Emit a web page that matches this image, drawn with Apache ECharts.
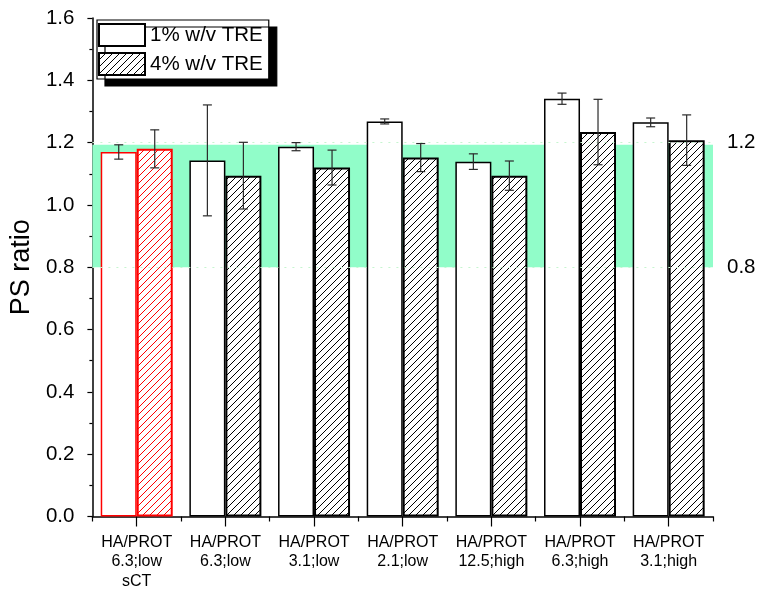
<!DOCTYPE html>
<html>
<head>
<meta charset="utf-8">
<script src="https://cdn.jsdelivr.net/npm/echarts@6/dist/echarts.min.js"></script>
<style>
html,body{margin:0;padding:0;background:#fff;}
#chart{width:757px;height:591px;}
</style>
</head>
<body>
<div id="chart"></div>
<script>
// ---- data ----
var categories = [
  'HA/PROT\n6.3;low\nsCT',
  'HA/PROT\n6.3;low',
  'HA/PROT\n3.1;low',
  'HA/PROT\n2.1;low',
  'HA/PROT\n12.5;high',
  'HA/PROT\n6.3;high',
  'HA/PROT\n3.1;high'
];
var seriesNames = ['1% w/v TRE', '4% w/v TRE'];
var tre1 = [1.170, 1.143, 1.187, 1.268, 1.139, 1.341, 1.265];
var tre1Err = [0.023, 0.178, 0.013, 0.008, 0.025, 0.018, 0.014];
var tre4 = [1.180, 1.094, 1.120, 1.152, 1.094, 1.234, 1.208];
var tre4Err = [0.061, 0.107, 0.056, 0.045, 0.047, 0.105, 0.081];
var bandLimits = [0.8, 1.2];
var bandTop = 1.193;
var yMin = 0, yMax = 1.6, yInterval = 0.2;

// ---- hatch patterns ----
function hatch(color) {
  var s = 7;
  var c = document.createElement('canvas');
  c.width = s; c.height = s;
  var ctx = c.getContext('2d');
  ctx.fillStyle = '#fff';
  ctx.fillRect(0, 0, s, s);
  ctx.strokeStyle = color;
  ctx.lineWidth = 1;
  ctx.beginPath();
  ctx.moveTo(-1, s + 1); ctx.lineTo(s + 1, -1);
  ctx.moveTo(-1, 1); ctx.lineTo(1, -1);
  ctx.moveTo(s - 1, s + 1); ctx.lineTo(s + 1, s - 1);
  ctx.stroke();
  return { image: c, repeat: 'repeat' };
}
var hatchBlack = hatch('#000');
var hatchRed = hatch('#ff0000');

var FONT = 'Liberation Sans, Arial, sans-serif';
var BAR_W = 36;

function errRenderer(offset) {
  return function (params, api) {
    var i = api.value(0), v = api.value(1), e = api.value(2);
    var top = api.coord([i, v + e]);
    var bot = api.coord([i, v - e]);
    var x = top[0] + offset;
    var hw = 4.5;
    var st = { stroke: '#2a2a2a', lineWidth: 1.2 };
    return {
      type: 'group',
      children: [
        { type: 'line', shape: { x1: x, y1: top[1], x2: x, y2: bot[1] }, style: st },
        { type: 'line', shape: { x1: x - hw, y1: top[1], x2: x + hw, y2: top[1] }, style: st },
        { type: 'line', shape: { x1: x - hw, y1: bot[1], x2: x + hw, y2: bot[1] }, style: st }
      ]
    };
  };
}

var chart = echarts.init(document.getElementById('chart'), null, { renderer: 'canvas' });

var option = {
  animation: false,
  backgroundColor: '#fff',
  textStyle: { fontFamily: FONT, color: '#000' },
  grid: { left: 92, right: 44, top: 18, bottom: 71, containLabel: false },
  legend: {
    data: seriesNames,
    orient: 'vertical',
    left: 97,
    top: 20,
    itemWidth: 46,
    itemHeight: 22,
    itemGap: 5,
    padding: [3, 6, 3, 1],
    icon: 'rect',
    backgroundColor: '#fff',
    borderColor: '#000',
    borderWidth: 1.2,
    shadowColor: '#000',
    shadowBlur: 0,
    shadowOffsetX: 8,
    shadowOffsetY: 7,
    textStyle: { fontFamily: FONT, fontSize: 20.5, color: '#000', padding: [0, 0, 0, 0] }
  },
  xAxis: [
    {
      type: 'category',
      data: categories,
      position: 'bottom',
      axisLine: { show: true, lineStyle: { color: '#000', width: 1.5 } },
      axisTick: { show: true, length: 5, lineStyle: { color: '#000', width: 1.2 } },
      axisLabel: { show: true, color: '#000', fontFamily: FONT, fontSize: 16, lineHeight: 19.5, margin: 16, interval: 0 },
      splitLine: { show: false }
    },
    {
      type: 'category',
      data: categories,
      position: 'bottom',
      axisLine: { show: false },
      axisTick: { show: true, alignWithLabel: true, length: 10, lineStyle: { color: '#000', width: 1.2 } },
      axisLabel: { show: false },
      splitLine: { show: false }
    }
  ],
  yAxis: {
    type: 'value',
    min: yMin,
    max: yMax,
    interval: yInterval,
    name: 'PS ratio',
    nameLocation: 'middle',
    nameGap: 56,
    nameTextStyle: { fontFamily: FONT, fontSize: 27, color: '#000' },
    axisLine: { show: true, lineStyle: { color: '#000', width: 1.5 } },
    axisTick: { show: true, length: 5, lineStyle: { color: '#000', width: 1.2 } },
    minorTick: { show: true, splitNumber: 2, length: 3, lineStyle: { color: '#000', width: 1.2 } },
    axisLabel: {
      color: '#000', fontFamily: FONT, fontSize: 20.5, margin: 18,
      formatter: function (v) { return v.toFixed(1); }
    },
    splitLine: { show: false }
  },
  series: [
    {
      name: 'band',
      type: 'line',
      data: [],
      z: 0,
      silent: true,
      markArea: {
        silent: true,
        itemStyle: { color: '#91fdc9' },
        data: [[{ yAxis: bandLimits[0] }, { yAxis: bandTop }]]
      },
      markLine: {
        silent: true,
        symbol: ['none', 'none'],
        lineStyle: { color: '#c6f5cf', type: [2, 6], width: 1 },
        label: {
          show: true, position: 'end', distance: 14,
          fontFamily: FONT, fontSize: 20.5, color: '#000',
          formatter: function (p) { return p.value.toFixed(1); }
        },
        data: [{ yAxis: bandLimits[1] }, { yAxis: bandLimits[0] }]
      }
    },
    {
      name: seriesNames[0],
      type: 'bar',
      barWidth: BAR_W,
      barGap: '0%',
      z: 2,
      itemStyle: { color: '#fff', borderColor: '#000', borderWidth: 1.5 },
      data: tre1.map(function (v, i) {
        return i === 0 ? { value: v, itemStyle: { color: '#fff', borderColor: '#ff0000' } } : v;
      })
    },
    {
      name: seriesNames[1],
      type: 'bar',
      barWidth: BAR_W,
      barGap: '0%',
      z: 2,
      itemStyle: { color: hatchBlack, borderColor: '#000', borderWidth: 2 },
      data: tre4.map(function (v, i) {
        return i === 0 ? { value: v, itemStyle: { color: hatchRed, borderColor: '#ff0000' } } : v;
      })
    },
    {
      name: 'err1',
      type: 'custom',
      z: 5,
      silent: true,
      renderItem: errRenderer(-BAR_W / 2),
      encode: { x: 0, y: 1 },
      data: tre1.map(function (v, i) { return [i, v, tre1Err[i]]; })
    },
    {
      name: 'err4',
      type: 'custom',
      z: 5,
      silent: true,
      renderItem: errRenderer(BAR_W / 2),
      encode: { x: 0, y: 1 },
      data: tre4.map(function (v, i) { return [i, v, tre4Err[i]]; })
    }
  ]
};
chart.setOption(option);
</script>
</body>
</html>
